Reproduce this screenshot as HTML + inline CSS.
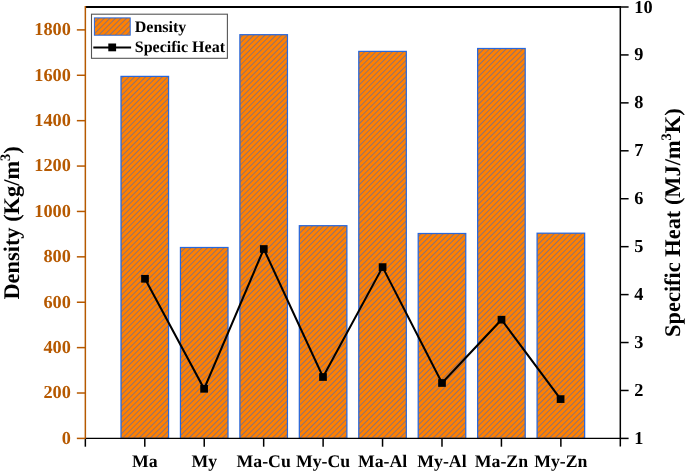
<!DOCTYPE html>
<html><head><meta charset="utf-8"><style>
html,body{margin:0;padding:0;background:#fff;width:685px;height:471px;overflow:hidden}
svg{display:block;will-change:transform}
body{-webkit-font-smoothing:antialiased}
text{font-family:"Liberation Serif",serif;font-weight:bold;text-rendering:geometricPrecision}
</style></head><body>
<svg width="685" height="471" viewBox="0 0 685 471">
<defs>
<pattern id="h" patternUnits="userSpaceOnUse" width="3.92" height="3.92" patternTransform="rotate(45)">
<rect width="3.92" height="3.92" fill="#FF8000"/>
<rect x="0" y="0" width="0.6" height="3.92" fill="#4468C0"/>
</pattern>
</defs>

<rect x="121.01" y="76.40" width="47.55" height="362.00" fill="url(#h)" stroke="#2868DC" stroke-width="1.25"/>
<rect x="180.45" y="247.50" width="47.55" height="190.90" fill="url(#h)" stroke="#2868DC" stroke-width="1.25"/>
<rect x="239.89" y="34.70" width="47.55" height="403.70" fill="url(#h)" stroke="#2868DC" stroke-width="1.25"/>
<rect x="299.33" y="225.70" width="47.55" height="212.70" fill="url(#h)" stroke="#2868DC" stroke-width="1.25"/>
<rect x="358.77" y="51.40" width="47.55" height="387.00" fill="url(#h)" stroke="#2868DC" stroke-width="1.25"/>
<rect x="418.21" y="233.50" width="47.55" height="204.90" fill="url(#h)" stroke="#2868DC" stroke-width="1.25"/>
<rect x="477.65" y="48.50" width="47.55" height="389.90" fill="url(#h)" stroke="#2868DC" stroke-width="1.25"/>
<rect x="537.09" y="233.20" width="47.55" height="205.20" fill="url(#h)" stroke="#2868DC" stroke-width="1.25"/>
<line x1="85.35" y1="7.0" x2="620.3100000000001" y2="7.0" stroke="#000" stroke-width="1.8"/>
<line x1="85.35" y1="438.4" x2="620.3100000000001" y2="438.4" stroke="#000" stroke-width="1.2"/>
<line x1="620.3100000000001" y1="6.1" x2="620.3100000000001" y2="446.4" stroke="#000" stroke-width="1.5"/>
<line x1="85.35" y1="438.4" x2="85.35" y2="446.7" stroke="#000" stroke-width="1.5"/>
<line x1="144.79" y1="438.4" x2="144.79" y2="446.7" stroke="#000" stroke-width="1.5"/>
<line x1="204.23" y1="438.4" x2="204.23" y2="446.7" stroke="#000" stroke-width="1.5"/>
<line x1="263.67" y1="438.4" x2="263.67" y2="446.7" stroke="#000" stroke-width="1.5"/>
<line x1="323.11" y1="438.4" x2="323.11" y2="446.7" stroke="#000" stroke-width="1.5"/>
<line x1="382.55" y1="438.4" x2="382.55" y2="446.7" stroke="#000" stroke-width="1.5"/>
<line x1="441.99" y1="438.4" x2="441.99" y2="446.7" stroke="#000" stroke-width="1.5"/>
<line x1="501.43" y1="438.4" x2="501.43" y2="446.7" stroke="#000" stroke-width="1.5"/>
<line x1="560.87" y1="438.4" x2="560.87" y2="446.7" stroke="#000" stroke-width="1.5"/>
<line x1="85.35" y1="6.1" x2="85.35" y2="438.4" stroke="#B65900" stroke-width="1.5"/>
<line x1="76.85" y1="438.40" x2="85.35" y2="438.40" stroke="#B65900" stroke-width="1.5"/>
<text x="70.85" y="443.70" font-size="18.3" fill="#B65900" text-anchor="end">0</text>
<line x1="76.85" y1="393.01" x2="85.35" y2="393.01" stroke="#B65900" stroke-width="1.5"/>
<text x="70.85" y="398.31" font-size="18.3" fill="#B65900" text-anchor="end">200</text>
<line x1="76.85" y1="347.62" x2="85.35" y2="347.62" stroke="#B65900" stroke-width="1.5"/>
<text x="70.85" y="352.92" font-size="18.3" fill="#B65900" text-anchor="end">400</text>
<line x1="76.85" y1="302.23" x2="85.35" y2="302.23" stroke="#B65900" stroke-width="1.5"/>
<text x="70.85" y="307.53" font-size="18.3" fill="#B65900" text-anchor="end">600</text>
<line x1="76.85" y1="256.84" x2="85.35" y2="256.84" stroke="#B65900" stroke-width="1.5"/>
<text x="70.85" y="262.14" font-size="18.3" fill="#B65900" text-anchor="end">800</text>
<line x1="76.85" y1="211.45" x2="85.35" y2="211.45" stroke="#B65900" stroke-width="1.5"/>
<text x="70.85" y="216.75" font-size="18.3" fill="#B65900" text-anchor="end">1000</text>
<line x1="76.85" y1="166.06" x2="85.35" y2="166.06" stroke="#B65900" stroke-width="1.5"/>
<text x="70.85" y="171.36" font-size="18.3" fill="#B65900" text-anchor="end">1200</text>
<line x1="76.85" y1="120.67" x2="85.35" y2="120.67" stroke="#B65900" stroke-width="1.5"/>
<text x="70.85" y="125.97" font-size="18.3" fill="#B65900" text-anchor="end">1400</text>
<line x1="76.85" y1="75.28" x2="85.35" y2="75.28" stroke="#B65900" stroke-width="1.5"/>
<text x="70.85" y="80.58" font-size="18.3" fill="#B65900" text-anchor="end">1600</text>
<line x1="76.85" y1="29.89" x2="85.35" y2="29.89" stroke="#B65900" stroke-width="1.5"/>
<text x="70.85" y="35.19" font-size="18.3" fill="#B65900" text-anchor="end">1800</text>
<line x1="620.3100000000001" y1="438.40" x2="628.61" y2="438.40" stroke="#000" stroke-width="1.5"/>
<text x="634.3100000000001" y="443.90" font-size="18.3" fill="#000">1</text>
<line x1="620.3100000000001" y1="390.47" x2="628.61" y2="390.47" stroke="#000" stroke-width="1.5"/>
<text x="634.3100000000001" y="395.97" font-size="18.3" fill="#000">2</text>
<line x1="620.3100000000001" y1="342.53" x2="628.61" y2="342.53" stroke="#000" stroke-width="1.5"/>
<text x="634.3100000000001" y="348.03" font-size="18.3" fill="#000">3</text>
<line x1="620.3100000000001" y1="294.60" x2="628.61" y2="294.60" stroke="#000" stroke-width="1.5"/>
<text x="634.3100000000001" y="300.10" font-size="18.3" fill="#000">4</text>
<line x1="620.3100000000001" y1="246.67" x2="628.61" y2="246.67" stroke="#000" stroke-width="1.5"/>
<text x="634.3100000000001" y="252.17" font-size="18.3" fill="#000">5</text>
<line x1="620.3100000000001" y1="198.73" x2="628.61" y2="198.73" stroke="#000" stroke-width="1.5"/>
<text x="634.3100000000001" y="204.23" font-size="18.3" fill="#000">6</text>
<line x1="620.3100000000001" y1="150.80" x2="628.61" y2="150.80" stroke="#000" stroke-width="1.5"/>
<text x="634.3100000000001" y="156.30" font-size="18.3" fill="#000">7</text>
<line x1="620.3100000000001" y1="102.87" x2="628.61" y2="102.87" stroke="#000" stroke-width="1.5"/>
<text x="634.3100000000001" y="108.37" font-size="18.3" fill="#000">8</text>
<line x1="620.3100000000001" y1="54.93" x2="628.61" y2="54.93" stroke="#000" stroke-width="1.5"/>
<text x="634.3100000000001" y="60.43" font-size="18.3" fill="#000">9</text>
<line x1="620.3100000000001" y1="7.00" x2="628.61" y2="7.00" stroke="#000" stroke-width="1.5"/>
<text x="634.3100000000001" y="12.50" font-size="18.3" fill="#000">10</text>
<text x="144.79" y="466.7" font-size="17.75" text-anchor="middle">Ma</text>
<text x="204.23" y="466.7" font-size="17.75" text-anchor="middle">My</text>
<text x="263.67" y="466.7" font-size="17.75" text-anchor="middle">Ma-Cu</text>
<text x="323.11" y="466.7" font-size="17.75" text-anchor="middle">My-Cu</text>
<text x="382.55" y="466.7" font-size="17.75" text-anchor="middle">Ma-Al</text>
<text x="441.99" y="466.7" font-size="17.75" text-anchor="middle">My-Al</text>
<text x="501.43" y="466.7" font-size="17.75" text-anchor="middle">Ma-Zn</text>
<text x="560.87" y="466.7" font-size="17.75" text-anchor="middle">My-Zn</text>
<polyline points="145.0,278.8 204.1,388.8 263.8,249.0 323.0,377.0 382.6,267.1 442.0,383.0 501.5,319.7 560.6,399.1" fill="none" stroke="#000" stroke-width="2.05" stroke-linejoin="miter"/>
<rect x="141.15" y="274.95" width="7.7" height="7.7" fill="#000"/>
<rect x="200.25" y="384.95" width="7.7" height="7.7" fill="#000"/>
<rect x="259.95" y="245.15" width="7.7" height="7.7" fill="#000"/>
<rect x="319.15" y="373.15" width="7.7" height="7.7" fill="#000"/>
<rect x="378.75" y="263.25" width="7.7" height="7.7" fill="#000"/>
<rect x="438.15" y="379.15" width="7.7" height="7.7" fill="#000"/>
<rect x="497.65" y="315.85" width="7.7" height="7.7" fill="#000"/>
<rect x="556.75" y="395.25" width="7.7" height="7.7" fill="#000"/>
<rect x="91.5" y="14.2" width="135.9" height="44.1" fill="#fff" stroke="#555" stroke-width="1.1"/>
<rect x="94.4" y="17.9" width="35.8" height="17.3" fill="url(#h)" stroke="#2868DC" stroke-width="1"/>
<text x="134.8" y="32.3" font-size="16">Density</text>
<line x1="93.3" y1="47.4" x2="131.1" y2="47.4" stroke="#000" stroke-width="2"/>
<rect x="108.3" y="43.5" width="7.8" height="7.8" fill="#000"/>
<text x="134.8" y="52.2" font-size="16">Specific Heat</text>
<text transform="translate(18.9,299.6) rotate(-90)" font-size="22.4">Density (Kg/m<tspan dy="-8.5" font-size="14.5">3</tspan><tspan dy="8.5">)</tspan></text>
<text transform="translate(680,336.9) rotate(-90)" font-size="22.4">Specific Heat (MJ/m<tspan dy="-9" font-size="14.5">3</tspan><tspan dy="9">K)</tspan></text>
</svg></body></html>
